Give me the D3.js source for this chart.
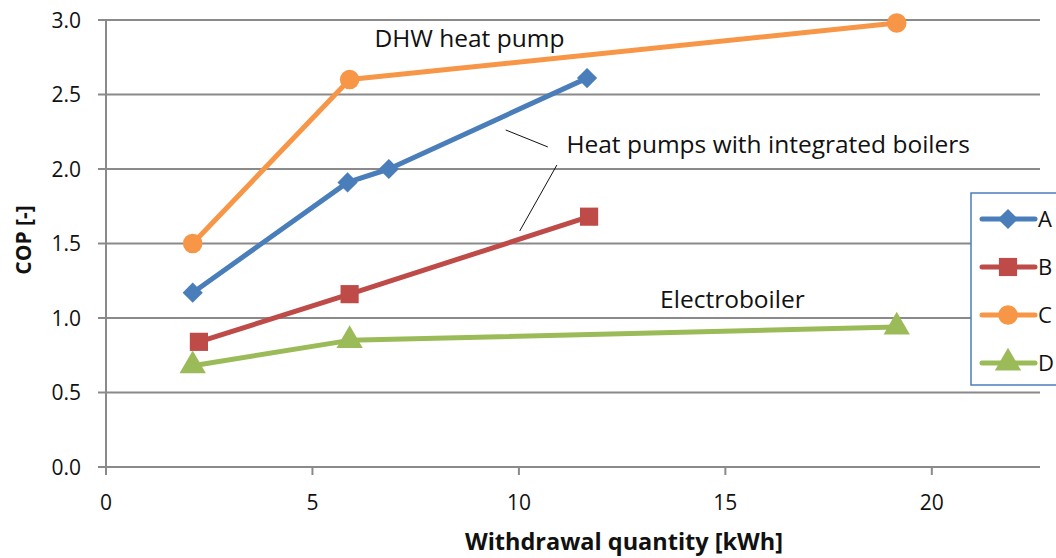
<!DOCTYPE html>
<html>
<head>
<meta charset="utf-8">
<script src="https://cdn.jsdelivr.net/npm/d3@7"></script>
<style>
  body { margin: 0; background: #fff; }
  svg { display: block; font-family: "Open Sans", sans-serif; }
</style>
</head>
<body>
<script>
// series data
let seriesNames = ["A", "B", "C", "D"];
let seriesColors = ["#4a7ebb", "#be4b48", "#f79646", "#9bbb59"];
let seriesShapes = ["diamond", "square", "circle", "triangle"];
let xA = [2.1, 5.85, 6.85, 11.65], yA = [1.17, 1.91, 2.0, 2.61];
let xB = [2.25, 5.9, 11.7], yB = [0.84, 1.16, 1.68];
let xC = [2.1, 5.9, 19.15], yC = [1.5, 2.6, 2.98];
let xD = [2.1, 5.9, 19.15], yD = [0.68, 0.85, 0.94];

let xTicks = [0, 5, 10, 15, 20];
let yTicks = [0, 0.5, 1.0, 1.5, 2.0, 2.5, 3.0];

// annotations in data units
let notes = [
  { text: "DHW heat pump", x: 6.5, y: 2.82 },
  { text: "Heat pumps with integrated boilers", x: 11.15, y: 2.11 },
  { text: "Electroboiler", x: 13.42, y: 1.065 }
];
let leaders = [
  [[9.68, 2.262], [10.7, 2.148]],
  [[10.92, 2.027], [10.02, 1.584]]
];

let width = 1056, height = 558;
let plot = { left: 106, right: 1040, top: 20, bottom: 467 };

let svg = d3.select("body").append("svg")
  .attr("width", width)
  .attr("height", height);

let x = d3.scaleLinear().domain([0, 22.62]).range([plot.left, plot.right]);
let y = d3.scaleLinear().domain([0, 3]).range([plot.bottom, plot.top]);

// gridlines
svg.append("g")
  .selectAll("line")
  .data(yTicks)
  .enter()
  .append("line")
  .attr("x1", plot.left - 8)
  .attr("x2", plot.right)
  .attr("y1", d => y(d))
  .attr("y2", d => y(d))
  .attr("stroke", "#8a8a8a")
  .attr("stroke-width", 2);

// y axis line
svg.append("line")
  .attr("x1", plot.left).attr("x2", plot.left)
  .attr("y1", y(3)).attr("y2", plot.bottom + 8)
  .attr("stroke", "#8a8a8a")
  .attr("stroke-width", 2);

// x ticks
svg.append("g")
  .selectAll("line")
  .data(xTicks)
  .enter()
  .append("line")
  .attr("x1", d => x(d)).attr("x2", d => x(d))
  .attr("y1", plot.bottom).attr("y2", plot.bottom + 8)
  .attr("stroke", "#8a8a8a")
  .attr("stroke-width", 2);

// y tick labels
svg.append("g")
  .selectAll("text")
  .data(yTicks)
  .enter()
  .append("text")
  .attr("x", 81)
  .attr("y", d => y(d) + 7.5)
  .attr("text-anchor", "end")
  .style("font-size", "21px")
  .attr("fill", "#111")
  .text(d => d3.format(".1f")(d));

// x tick labels
svg.append("g")
  .selectAll("text")
  .data(xTicks)
  .enter()
  .append("text")
  .attr("x", d => x(d))
  .attr("y", 510)
  .attr("text-anchor", "middle")
  .style("font-size", "21px")
  .attr("fill", "#111")
  .text(d => d);

// axis titles
svg.append("text")
  .attr("x", 624)
  .attr("y", 550)
  .attr("text-anchor", "middle")
  .style("font-size", "23.5px")
  .style("font-weight", "bold")
  .attr("fill", "#111")
  .text("Withdrawal quantity [kWh]");

svg.append("text")
  .attr("transform", "translate(31, 240) rotate(-90)")
  .attr("text-anchor", "middle")
  .style("font-size", "21px")
  .style("font-weight", "bold")
  .attr("fill", "#111")
  .text("COP [-]");

// marker shapes
function symbolFor(shape) {
  if (shape == "diamond") return d3.symbol().type(d3.symbolDiamond2).size(260);
  if (shape == "square") return d3.symbol().type(d3.symbolSquare).size(330);
  if (shape == "circle") return d3.symbol().type(d3.symbolCircle).size(300);
  return d3.symbol().type(d3.symbolTriangle).size(300);
}

let xs = [xA, xB, xC, xD];
let ys = [yA, yB, yC, yD];
let line = d3.line().x(d => x(d[0])).y(d => y(d[1]));

seriesNames.forEach((name, i) => {
  let pts = xs[i].map((v, j) => [v, ys[i][j]]);
  let g = svg.append("g");
  g.append("path")
    .attr("d", line(pts))
    .attr("fill", "none")
    .attr("stroke", seriesColors[i])
    .attr("stroke-width", 5)
    .attr("stroke-linejoin", "round");
  g.selectAll("path.m")
    .data(pts)
    .enter()
    .append("path")
    .attr("class", "m")
    .attr("transform", d => "translate(" + x(d[0]) + "," + y(d[1]) + ")")
    .attr("d", symbolFor(seriesShapes[i])())
    .attr("fill", seriesColors[i]);
});

// annotations
svg.append("g")
  .selectAll("text")
  .data(notes)
  .enter()
  .append("text")
  .attr("x", d => x(d.x))
  .attr("y", d => y(d.y))
  .style("font-size", "24.5px")
  .attr("fill", "#111")
  .text(d => d.text);

svg.append("g")
  .selectAll("line")
  .data(leaders)
  .enter()
  .append("line")
  .attr("x1", d => x(d[0][0])).attr("y1", d => y(d[0][1]))
  .attr("x2", d => x(d[1][0])).attr("y2", d => y(d[1][1]))
  .attr("stroke", "#111")
  .attr("stroke-width", 1);

// legend
let legend = svg.append("g").attr("transform", "translate(971, 193)");
legend.append("rect")
  .attr("x", 0).attr("y", 0)
  .attr("width", 120).attr("height", 192)
  .attr("fill", "#fff")
  .attr("stroke", "#4a7ebb")
  .attr("stroke-width", 1.5);

seriesNames.forEach((name, i) => {
  let ly = 26 + i * 48;
  legend.append("line")
    .attr("x1", 11).attr("x2", 64)
    .attr("y1", ly).attr("y2", ly)
    .attr("stroke", seriesColors[i])
    .attr("stroke-width", 5)
    .attr("stroke-linecap", "round");
  legend.append("path")
    .attr("transform", "translate(37," + ly + ")")
    .attr("d", symbolFor(seriesShapes[i])())
    .attr("fill", seriesColors[i]);
  legend.append("text")
    .attr("x", 67)
    .attr("y", ly + 8)
    .style("font-size", "22px")
    .attr("fill", "#111")
    .text(name);
});
</script>
</body>
</html>
